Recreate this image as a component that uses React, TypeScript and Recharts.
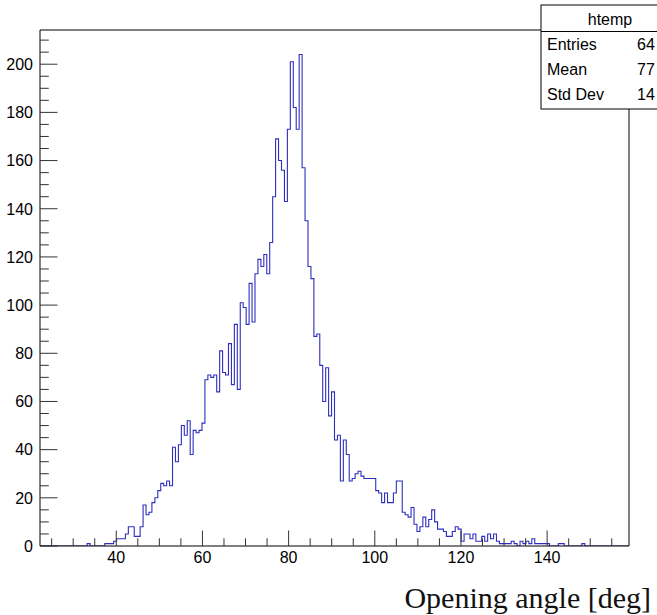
import { LineChart, Line, XAxis, YAxis, ReferenceLine, Label } from "recharts";

// histogram range (deg) and y-axis max (ROOT adds 5% above the tallest bin)
const xMin = 22.3;
const xMax = 159.0;
const yMax = 214.2;

// entries per bin, 200 bins
const counts = [
  0, 0, 0, 0, 0, 0, 0, 0, 0, 0, 0, 0, 0, 0, 0, 0, 1, 0, 0, 0,
  0, 0, 1, 1, 1, 2, 3, 3, 3, 5, 8, 8, 4, 4, 8, 17, 13, 14, 18, 20,
  23, 26, 25, 27, 25, 41, 35, 42, 50, 46, 52, 38, 48, 47, 48, 51, 69, 71, 70, 71,
  64, 81, 72, 71, 84, 67, 92, 65, 101, 99, 92, 109, 93, 113, 119, 116, 121, 113, 126, 145,
  169, 160, 156, 143, 173, 201, 182, 173, 204, 157, 135, 116, 111, 87, 88, 75, 60, 74, 54, 64,
  44, 46, 27, 44, 38, 27, 28, 30, 31, 29, 28, 28, 28, 28, 23, 22, 18, 22, 18, 18,
  22, 27, 27, 14, 13, 12, 16, 9, 6, 8, 12, 8, 11, 15, 10, 7, 7, 6, 4, 4,
  6, 8, 7, 2, 5, 5, 3, 5, 2, 2, 4, 2, 5, 3, 5, 2, 1, 1, 1, 1,
  2, 1, 0, 2, 1, 2, 1, 3, 1, 1, 1, 1, 1, 0, 0, 0, 1, 1, 0, 0,
  0, 0, 0, 0, 1, 0, 0, 0, 0, 0, 0, 0, 0, 0, 0, 0, 0, 0, 0, 0,
];

const xTicks = [25, 30, 35, 40, 45, 50, 55, 60, 65, 70, 75, 80, 85, 90, 95, 100, 105, 110, 115, 120, 125, 130, 135, 140, 145, 150, 155];
const xLabels = [40, 60, 80, 100, 120, 140];
const yTicks = [0, 5, 10, 15, 20, 25, 30, 35, 40, 45, 50, 55, 60, 65, 70, 75, 80, 85, 90, 95, 100, 105, 110, 115, 120, 125, 130, 135, 140, 145, 150, 155, 160, 165, 170, 175, 180, 185, 190, 195, 200, 205, 210];
const yLabels = [0, 20, 40, 60, 80, 100, 120, 140, 160, 180, 200];

const statsTitle = "htemp";
const statsNames = ["Entries", "Mean", "Std Dev"];
const statsValues = ["64", "77", "14"];
const xTitle = "Opening angle [deg]";

const W = 657;
const H = 615;
const FONT = "'Liberation Sans', Arial, Helvetica, sans-serif";
const HIST = "#2f2fbf";

const binWidth = (xMax - xMin) / counts.length;
const data = counts.map((n, i) => ({ x: xMin + i * binWidth, n }));
data.push({ x: xMax, n: counts[counts.length - 1] });

function XTick(props: any) {
  const { x, y, payload } = props;
  const major = xLabels.includes(payload.value);
  return (
    <g>
      <line x1={x} x2={x} y1={y} y2={y - (major ? 15.5 : 7.7)} stroke="#333" strokeWidth={1} />
      {major && (
        <text x={x} y={y + 17} textAnchor="middle" fontSize={16} fontFamily={FONT} fill="#000">
          {payload.value}
        </text>
      )}
    </g>
  );
}

function YTick(props: any) {
  const { x, y, payload } = props;
  const major = yLabels.includes(payload.value);
  return (
    <g>
      <line x1={x} x2={x + (major ? 17.5 : 8.8)} y1={y} y2={y} stroke="#333" strokeWidth={1} />
      {major && (
        <text x={x - 7} y={y} dy="0.36em" textAnchor="end" fontSize={16} fontFamily={FONT} fill="#000">
          {payload.value}
        </text>
      )}
    </g>
  );
}

function StatsBox() {
  const left = 541;
  const top = 5;
  const w = 138;
  const rowY = [50, 75, 100];
  return (
    <svg width={W} height={H} style={{ position: "absolute", left: 0, top: 0, pointerEvents: "none" }}>
      <rect x={left} y={top} width={w} height={104} fill="#fff" stroke="#000" strokeWidth={1} />
      <line x1={left} x2={left + w} y1={31.5} y2={31.5} stroke="#000" strokeWidth={1} />
      <text x={left + w / 2} y={25} textAnchor="middle" fontSize={16} fontFamily={FONT}>
        {statsTitle}
      </text>
      {statsNames.map((name, i) => (
        <g key={name}>
          <text x={547} y={rowY[i]} fontSize={16} fontFamily={FONT}>
            {name}
          </text>
          <text x={637} y={rowY[i]} fontSize={16} fontFamily={FONT}>
            {statsValues[i]}
          </text>
        </g>
      ))}
    </svg>
  );
}

export default function App() {
  return (
    <div style={{ position: "absolute", left: 0, top: 0, width: W, height: H, overflow: "hidden", background: "#fff" }}>
      <LineChart width={W} height={H} data={data} margin={{ top: 30, right: 28, bottom: 39, left: 0 }}>
        <XAxis
          dataKey="x"
          type="number"
          domain={[xMin, xMax]}
          ticks={xTicks}
          interval={0}
          tickSize={0}
          tickMargin={0}
          tickLine={false}
          tick={<XTick />}
          axisLine={{ stroke: "#000", strokeWidth: 1 }}
          height={30}
          allowDataOverflow
        >
          <Label
            content={({ viewBox }: any) => (
              <text
                x={viewBox.x + viewBox.width + 22}
                y={viewBox.y + 62}
                textAnchor="end"
                fontSize={30}
                fontFamily="'Liberation Serif', 'DejaVu Serif', serif"
                fill="#111"
              >
                {xTitle}
              </text>
            )}
          />
        </XAxis>
        <YAxis
          type="number"
          domain={[0, yMax]}
          ticks={yTicks}
          interval={0}
          tickSize={0}
          tickMargin={0}
          tickLine={false}
          tick={<YTick />}
          axisLine={{ stroke: "#000", strokeWidth: 1 }}
          width={40}
          allowDataOverflow
        />
        <ReferenceLine y={yMax} stroke="#000" strokeWidth={1} />
        <ReferenceLine x={xMax} stroke="#000" strokeWidth={1} />
        <Line
          type="stepAfter"
          dataKey="n"
          stroke={HIST}
          strokeWidth={1.1}
          dot={false}
          activeDot={false}
          isAnimationActive={false}
        />
      </LineChart>
      <StatsBox />
    </div>
  );
}
